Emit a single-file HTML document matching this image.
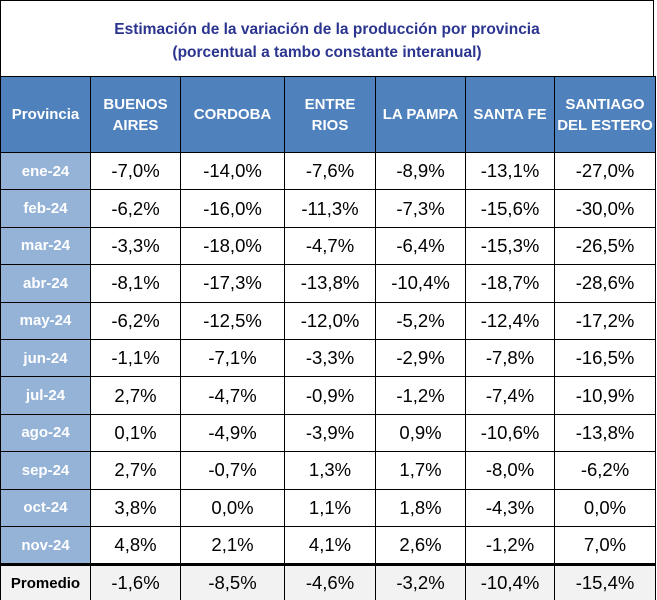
<!DOCTYPE html>
<html><head><meta charset="utf-8">
<style>
html,body{margin:0;padding:0;background:#fff;}
#wrap{position:relative;width:657px;height:600px;overflow:hidden;font-family:"Liberation Sans",sans-serif;}
#title{position:absolute;left:0;top:0;width:654px;height:76px;border:1px solid #000;border-bottom:none;text-align:center;color:#2b3590;font-weight:bold;font-size:15.5px;line-height:23px;box-sizing:border-box;padding-top:17px;}
table{position:absolute;left:0;top:76px;border-collapse:collapse;table-layout:fixed;}
td,th{border:1.5px solid #000;text-align:center;padding:0;}
th{background:#4f81bd;color:#fff;font-size:15px;font-weight:bold;height:75px;line-height:21px;}
td{height:36.4px;font-size:18.5px;color:#000;}
td.m{background:#95b3d7;color:#fff;font-weight:bold;font-size:15px;}
tr.avg td{background:#f2f2f2;border-top:3px solid #000;height:34px;}
tr.avg td.m{color:#000;background:#f2f2f2;}
</style></head><body>
<div id="wrap">
<div id="title">Estimación de la variación de la producción por provincia<br>(porcentual a tambo constante interanual)</div>
<table id="t">
<colgroup><col style="width:90px"><col style="width:90px"><col style="width:104px"><col style="width:91px"><col style="width:90px"><col style="width:89px"><col style="width:101px"></colgroup>
<thead><tr id="hr"></tr></thead>
<tbody id="tb"></tbody>
</table>
</div>
<script>
const headers=["Provincia","BUENOS<br>AIRES","CORDOBA","ENTRE<br>RIOS","LA PAMPA","SANTA FE","SANTIAGO<br>DEL ESTERO"];
const months=["ene-24","feb-24","mar-24","abr-24","may-24","jun-24","jul-24","ago-24","sep-24","oct-24","nov-24"];
const buenosAires=["-7,0%","-6,2%","-3,3%","-8,1%","-6,2%","-1,1%","2,7%","0,1%","2,7%","3,8%","4,8%"];
const cordoba=["-14,0%","-16,0%","-18,0%","-17,3%","-12,5%","-7,1%","-4,7%","-4,9%","-0,7%","0,0%","2,1%"];
const entreRios=["-7,6%","-11,3%","-4,7%","-13,8%","-12,0%","-3,3%","-0,9%","-3,9%","1,3%","1,1%","4,1%"];
const laPampa=["-8,9%","-7,3%","-6,4%","-10,4%","-5,2%","-2,9%","-1,2%","0,9%","1,7%","1,8%","2,6%"];
const santaFe=["-13,1%","-15,6%","-15,3%","-18,7%","-12,4%","-7,8%","-7,4%","-10,6%","-8,0%","-4,3%","-1,2%"];
const santiago=["-27,0%","-30,0%","-26,5%","-28,6%","-17,2%","-16,5%","-10,9%","-13,8%","-6,2%","0,0%","7,0%"];
const promedio=["-1,6%","-8,5%","-4,6%","-3,2%","-10,4%","-15,4%"];
const hr=document.getElementById('hr');
headers.forEach(h=>{const th=document.createElement('th');th.innerHTML=h;


hr.appendChild(th);});
const tb=document.getElementById('tb');
const cols=[buenosAires,cordoba,entreRios,laPampa,santaFe,santiago];
months.forEach((m,i)=>{const tr=document.createElement('tr');


const c=document.createElement('td');c.className='m';c.textContent=m;


tr.appendChild(c);
cols.forEach(col=>{const td=document.createElement('td');td.textContent=col[i];


tr.appendChild(td);});
tb.appendChild(tr);});
const tr=document.createElement('tr');tr.className='avg';


const c=document.createElement('td');c.className='m';c.textContent='Promedio';


tr.appendChild(c);
promedio.forEach(v=>{const td=document.createElement('td');td.textContent=v;


tr.appendChild(td);});
tb.appendChild(tr);
</script>
</body></html>
